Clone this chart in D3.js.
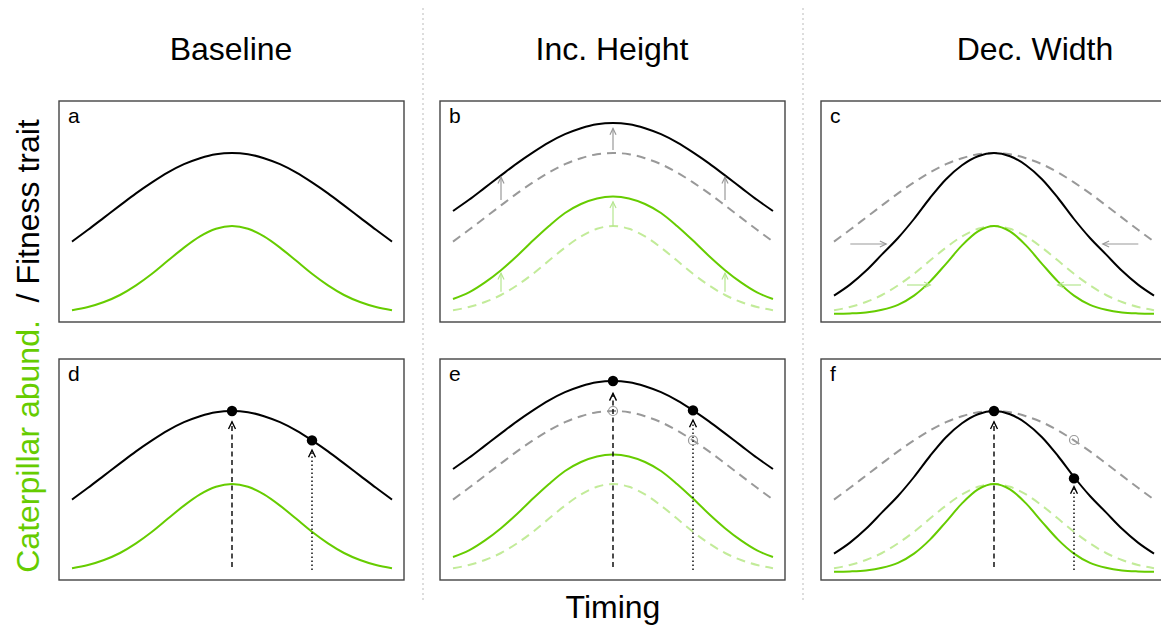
<!DOCTYPE html>
<html>
<head>
<meta charset="utf-8">
<script src="https://cdn.jsdelivr.net/npm/d3@7"></script>
<style>
body { margin: 0; background: #fff; }
svg text { font-family: "Liberation Sans", Arial, Helvetica, sans-serif; }
</style>
</head>
<body>
<svg id="fig" width="1161" height="628"></svg>
<script>
// timing grid the curves were read on (0-100, peak at 50)
var timing = [0,5,10,15,20,25,30,35,40,45,50,55,60,65,70,75,80,85,90,95,100];

// fitness trait curves (black) and caterpillar abundance curves (green)
var baseFitness = [34.7,40.6,46.7,52.8,58.8,64.3,69.3,73.4,76.4,78.4,79,78.4,76.4,73.4,69.3,64.3,58.8,52.8,46.7,40.6,34.7];
var baseCater   = [0.4,2.0,4.5,8.0,12.8,18.6,25.2,31.7,37.3,41.1,42.5,41.1,37.3,31.7,25.2,18.6,12.8,8.0,4.5,2.0,0.4];
var incFitness  = [50,55.6,61.7,67.8,73.8,79.3,84.3,88.4,91.4,93.4,94,93.4,91.4,88.4,84.3,79.3,73.8,67.8,61.7,55.6,50];
var incCater    = [6,9.3,14.3,20.4,27.5,35.2,42.5,49,53.5,56.3,57.2,56.3,53.5,49,42.5,35.2,27.5,20.4,14.3,9.3,6];
var decFitness  = [7.7,13.2,20.1,28.3,36.5,46,56.5,65.9,72.9,77.4,79,77.4,72.9,65.9,56.5,46,36.5,28.3,20.1,13.2,7.7];
var decCater    = [-1.4,-1.2,-0.7,0.6,3.1,7.7,14.7,23.6,32.8,39.8,42.5,39.8,32.8,23.6,14.7,7.7,3.1,0.6,-0.7,-1.2,-1.4];

var scenarios = ['Baseline', 'Inc. Height', 'Dec. Width'];
var letters = [['a','b','c'], ['d','e','f']];

// shift arrows, panel b (vertical) and c (horizontal)
var incArrowT = [15, 50, 85];
var incFitFrom = [55.5, 80.5, 55.5], incFitTo = [66.9, 91.3, 66.9];
var incCatFrom = [9.6, 42.2, 9.6],   incCatTo = [18.9, 54.6, 18.9];
var decFitArrowY = 33.5, decFitFrom = [5.1, 95.1], decFitTo = [16.3, 84];
var decCatArrowY = 13,   decCatFrom = [22.8, 77.2], decCatTo = [30.1, 69.9];

// optimum timing points, bottom row
var dotT = [50, 75];
var dotBase = [1, -0.5];
var dotFitness = [[79, 64.3], [94, 79.3], [79, 45.3]];
var dotTips = [[73.6, 59.5], [87.8, 74.5], [73.6, 41.2]];
var openDots = [[], [79, 64.3], [null, 64.5]];

var green = '#66cc00', lightGreen = '#c2eb99', grey = '#999999';
var greenArrow = '#b5e68f';

var svg = d3.select('#fig');
var colLeft = [59, 440, 821], rowTop = [101, 359];
var pw = 345, ph = 221;

// separators
[423, 803].forEach(function(x) {
    svg.append('line').attr('x1', x).attr('x2', x).attr('y1', 8).attr('y2', 602)
        .attr('stroke', '#bbbbbb').attr('stroke-width', 1).attr('stroke-dasharray', '2,3');
});

// column titles
var titleX = [231, 612, 1035];
scenarios.forEach(function(s, i) {
    svg.append('text').attr('x', titleX[i]).attr('y', 60).attr('text-anchor', 'middle')
        .attr('font-size', 32).text(s);
});

svg.append('text').attr('x', 613).attr('y', 618).attr('text-anchor', 'middle')
    .attr('font-size', 32).text('Timing');

var ylab = svg.append('text').attr('transform', 'translate(39,346) rotate(-90)')
    .attr('text-anchor', 'middle').attr('font-size', 32);
ylab.append('tspan').attr('fill', green).text('Caterpillar abund.');
ylab.append('tspan').attr('fill', '#000').attr('xml:space', 'preserve').text('  / Fitness trait');

function arrow(g, x1, y1, x2, y2, color, w, dash, len, ang) {
    g.append('line').attr('x1', x1).attr('y1', y1).attr('x2', x2).attr('y2', y2)
        .attr('stroke', color).attr('stroke-width', w).attr('stroke-dasharray', dash || null);
    var a = Math.atan2(y2 - y1, x2 - x1);
    var p1 = [x2 - len * Math.cos(a - ang), y2 - len * Math.sin(a - ang)];
    var p2 = [x2 - len * Math.cos(a + ang), y2 - len * Math.sin(a + ang)];
    g.append('path').attr('d', 'M' + p1 + 'L' + x2 + ',' + y2 + 'L' + p2)
        .attr('fill', 'none').attr('stroke', color).attr('stroke-width', w);
}

var fitSets = [baseFitness, incFitness, decFitness];
var catSets = [baseCater, incCater, decCater];

[0, 1].forEach(function(r) {
    [0, 1, 2].forEach(function(c) {
        var left = colLeft[c], top = rowTop[r];
        var g = svg.append('g');
        var x = d3.scaleLinear().domain([0, 100]).range([left + 13, left + 333]);
        var y = d3.scaleLinear().domain([-5.5, 105]).range([top + ph, top]);
        var line = d3.line().x(function(d, i) { return x(timing[i]); })
            .y(function(d) { return y(d); }).curve(d3.curveMonotoneX);

        g.append('rect').attr('x', left).attr('y', top).attr('width', pw).attr('height', ph)
            .attr('fill', 'none').attr('stroke', '#444').attr('stroke-width', 1.4);
        g.append('text').attr('x', left + 9).attr('y', top + 22).attr('font-size', 21)
            .text(letters[r][c]);

        if (c > 0) {
            g.append('path').attr('d', line(baseFitness)).attr('fill', 'none')
                .attr('stroke', grey).attr('stroke-width', 2).attr('stroke-dasharray', '9,6');
            g.append('path').attr('d', line(baseCater)).attr('fill', 'none')
                .attr('stroke', lightGreen).attr('stroke-width', 2).attr('stroke-dasharray', '9,6');
        }
        g.append('path').attr('d', line(fitSets[c])).attr('fill', 'none')
            .attr('stroke', '#000').attr('stroke-width', 2);
        g.append('path').attr('d', line(catSets[c])).attr('fill', 'none')
            .attr('stroke', green).attr('stroke-width', 2);

        if (r === 0 && c === 1) {
            incArrowT.forEach(function(t, i) {
                arrow(g, x(t), y(incFitFrom[i]), x(t), y(incFitTo[i]), grey, 1.2, null, 7, Math.PI / 7);
                arrow(g, x(t), y(incCatFrom[i]), x(t), y(incCatTo[i]), greenArrow, 1.2, null, 7, Math.PI / 7);
            });
        }
        if (r === 0 && c === 2) {
            decFitFrom.forEach(function(t, i) {
                arrow(g, x(t), y(decFitArrowY), x(decFitTo[i]), y(decFitArrowY), grey, 1.2, null, 7, Math.PI / 7);
                arrow(g, x(decCatFrom[i]), y(decCatArrowY), x(decCatTo[i]), y(decCatArrowY), greenArrow, 1.2, null, 7, Math.PI / 7);
            });
        }
        if (r === 1) {
            dotT.forEach(function(t, i) {
                arrow(g, x(t), y(dotBase[i]), x(t), y(dotTips[c][i]), '#000', 1.4,
                    i === 0 ? '5,3.5' : '1.5,2.5', 8, Math.PI / 7);
                var o = openDots[c][i];
                if (o != null) {
                    g.append('circle').attr('cx', x(t)).attr('cy', y(o)).attr('r', 4.5)
                        .attr('fill', 'none').attr('stroke', grey).attr('stroke-width', 1.2);
                }
                g.append('circle').attr('cx', x(t)).attr('cy', y(dotFitness[c][i])).attr('r', 5.2)
                    .attr('fill', '#000');
            });
        }
    });
});
</script>
</body>
</html>
